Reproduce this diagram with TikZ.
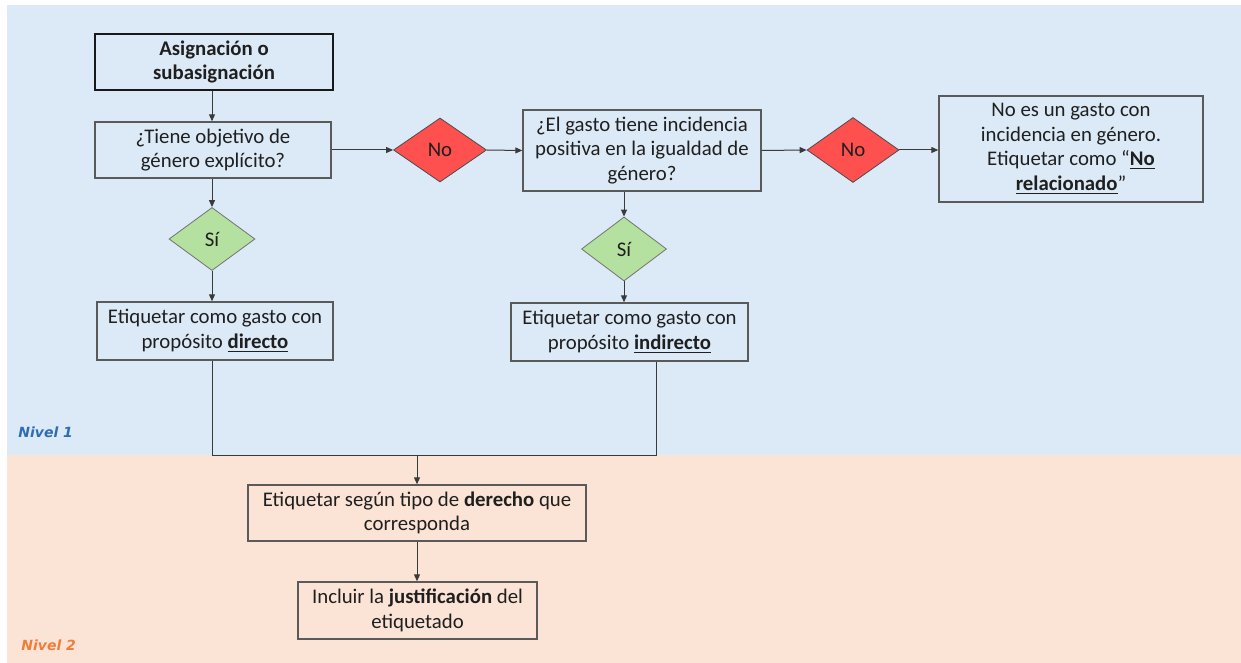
\documentclass[tikz,border=0pt]{standalone}
\usepackage{fontspec}
\setmainfont{Carlito}
\newfontfamily\nivelfont{DejaVu Sans}
\usetikzlibrary{shapes.geometric,arrows.meta}
\definecolor{bgblue}{HTML}{DCE9F6}
\definecolor{bgorange}{HTML}{FBE3D6}
\definecolor{nored}{HTML}{FF5050}
\definecolor{sigreen}{HTML}{B4E0A0}
\definecolor{lvlblue}{HTML}{2E6DB4}
\definecolor{lvlorange}{HTML}{EE7D3A}
\definecolor{linegray}{HTML}{3A3A3A}
\definecolor{boxgray}{HTML}{5A5A5A}
\begin{document}
\begin{tikzpicture}[x=0.5pt,y=-0.5pt,
  txt/.style={font=\fontsize{10.4}{12.2}\selectfont, text=black!88},
  box/.style={txt, draw=boxgray, line width=0.7pt, align=center, inner sep=0pt},
  startbox/.style={box, draw=black!90, line width=1.4pt, font=\bfseries\fontsize{10.4}{12.2}\selectfont},
  nodia/.style={txt, diamond, draw=black!70, line width=0.4pt, fill=nored, inner sep=0pt, aspect=1.4},
  sidia/.style={txt, diamond, draw=black!55, line width=0.4pt, fill=sigreen, inner sep=0pt, aspect=1.4},
  conn/.style={draw=linegray, line width=0.5pt, -{Triangle[length=3.5pt,width=3pt]}},
  plain/.style={draw=linegray, line width=0.5pt},
  nivel/.style={anchor=west, inner sep=0pt, font=\nivelfont\bfseries\itshape\fontsize{7}{8}\selectfont}
]
\useasboundingbox (0,0) rectangle (1241,663);
\fill[white] (0,0) rectangle (1241,663);
\fill[bgblue] (7,5) rectangle (1241,455);
\fill[bgorange] (7,455) rectangle (1241,663);

\node[startbox, minimum width=119pt, minimum height=28pt] (asig) at (214,62) {Asignación o\\subasignación};
\node[box, minimum width=118pt, minimum height=28pt] (tiene) at (213,150) {¿Tiene objetivo de\\género explícito?};
\node[nodia, minimum width=46.5pt, minimum height=32pt] (no1) at (440,150) {No};
\node[box, minimum width=119pt, minimum height=40.5pt] (elgasto) at (642,150.5) {¿El gasto tiene incidencia\\positiva en la igualdad de\\género?};
\node[nodia, minimum width=46pt, minimum height=32.5pt] (no2) at (853,150) {No};
\node[box, minimum width=132pt, minimum height=53pt] (noes) at (1071,149) {No es un gasto con\\incidencia en género.\\Etiquetar como “\textbf{\underline{No}}\\\textbf{\underline{relacionado}}”};
\node[sidia, minimum width=43pt, minimum height=31.5pt] (si1) at (212,239) {Sí};
\node[sidia, minimum width=42.5pt, minimum height=32pt] (si2) at (624,249) {Sí};
\node[box, minimum width=118pt, minimum height=29pt] (dir) at (215,331) {Etiquetar como gasto con\\propósito \textbf{\underline{directo}}};
\node[box, minimum width=118.5pt, minimum height=29pt] (indir) at (629.5,332) {Etiquetar como gasto con\\propósito \textbf{\underline{indirecto}}};
\node[box, minimum width=169pt, minimum height=28pt] (segun) at (417,513) {Etiquetar según tipo de \textbf{derecho} que\\corresponda};
\node[box, minimum width=119.5pt, minimum height=28.5pt] (incluir) at (417.5,610.5) {Incluir la \textbf{justificación} del\\etiquetado};

\node[nivel, text=lvlblue] (n1) at (18,432) {Nivel 1};
\node[nivel, text=lvlorange] (n2) at (21,645) {Nivel 2};

\coordinate (mL) at (212,455);
\coordinate (mR) at (656,455);
\coordinate (mC) at (417,455);

\draw[conn] (asig.south -| si1) -- (si1 |- tiene.north);
\draw[conn] (tiene.east) -- (no1.west);
\draw[conn] (no1.east) -- (elgasto.west);
\draw[conn] (elgasto.east) -- (no2.west);
\draw[conn] (no2.east) -- (no2.east -| noes.west);
\draw[conn] (tiene.south -| si1) -- (si1.north);
\draw[conn] (si1.south) -- (si1.south |- dir.north);
\draw[conn] (si2.north |- elgasto.south) -- (si2.north);
\draw[conn] (si2.south) -- (si2.south |- indir.north);
\draw[plain] (mL |- dir.south) -- (mL) -- (mR) -- (mR |- indir.south);
\draw[conn] (mC) -- (segun.north);
\draw[conn] (segun.south -| mC) -- (mC |- incluir.north);
\end{tikzpicture}
\end{document}
